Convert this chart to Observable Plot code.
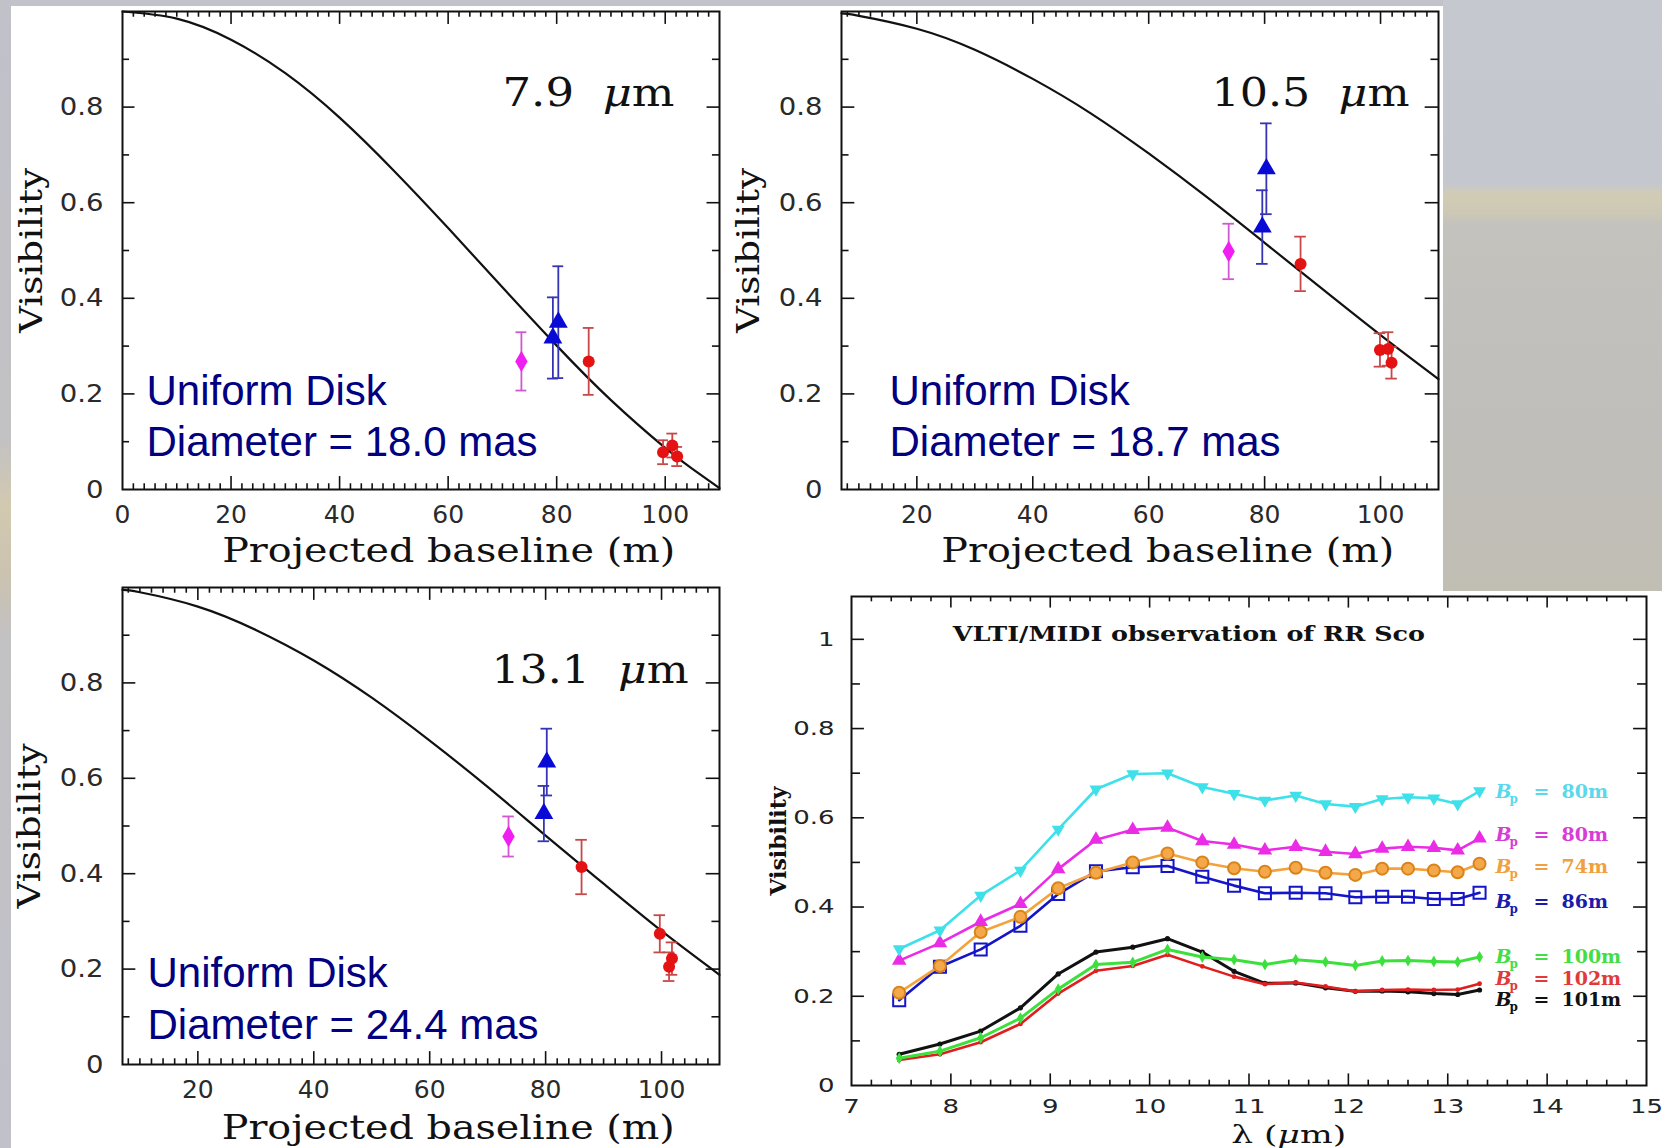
<!DOCTYPE html>
<html><head><meta charset="utf-8">
<script src="https://cdn.jsdelivr.net/npm/d3@7"></script>
<script src="https://cdn.jsdelivr.net/npm/@observablehq/plot@0.6"></script>
<style>
html,body{margin:0;padding:0;}
body{width:1662px;height:1148px;overflow:hidden;background:#c1c2ca;}
#page{position:relative;width:1662px;height:1148px;overflow:hidden;}
.panel{position:absolute;background:#ffffff;}
.chart{position:absolute;}
.chart svg{overflow:visible;display:block;}
</style></head><body>
<div id="page">
  <div class="panel" style="left:0;top:0;width:11px;height:1148px;background:linear-gradient(180deg,#c0c1c9 0%,#c2c1c4 38%,#d2c9b0 44%,#cbc3b0 50%,#c2c1c4 56%,#c0c1c9 100%);"></div>
  <div class="panel" style="left:1443px;top:0;width:219px;height:591px;background:linear-gradient(180deg,#c6c8d0 0%,#c5c7cf 31%,#d2ccb4 33%,#cdc8b6 36%,#c3c2bd 38%,#bfbebb 70%,#c1beb4 100%);"></div>
  <div class="panel" style="left:11px;top:6px;width:1432px;height:1142px;"></div>
  <div class="panel" style="left:11px;top:591px;width:1651px;height:557px;"></div>
</div>
<script>
// ================= DATA =================
// observation kinds (shared by the three baseline panels)
const obsKind = ["mag", "tri", "tri", "circ", "circ", "circ", "circ"];

// 7.9 micron panel
const wl79_B   = [73.5, 79.3, 80.3, 85.9, 99.6, 101.3, 102.2];
const wl79_V   = [0.268, 0.317, 0.350, 0.268, 0.078, 0.092, 0.069];
const wl79_err = [0.061, 0.085, 0.117, 0.070, 0.025, 0.025, 0.020];
const ud79_B   = [0, 10, 20, 30, 40, 50, 60, 70, 80, 90, 100, 105, 110];
const ud79_V   = [1.000, 0.985, 0.941, 0.871, 0.778, 0.667, 0.547, 0.423, 0.301, 0.187, 0.087, 0.043, 0.003];

// 10.5 micron panel
const wl105_B   = [73.8, 79.6, 80.3, 86.2, 99.9, 101.3, 101.9];
const wl105_V   = [0.498, 0.549, 0.671, 0.472, 0.292, 0.294, 0.265];
const wl105_err = [0.058, 0.077, 0.095, 0.057, 0.035, 0.035, 0.033];
const ud105_B   = [7, 10, 20, 30, 40, 50, 60, 70, 80, 90, 100, 110];
const ud105_V   = [0.996, 0.991, 0.964, 0.920, 0.859, 0.787, 0.703, 0.612, 0.516, 0.419, 0.323, 0.231];

// 13.1 micron panel
const wl131_B   = [73.6, 79.7, 80.2, 86.2, 99.7, 101.3, 101.8];
const wl131_V   = [0.478, 0.526, 0.634, 0.414, 0.274, 0.205, 0.222];
const wl131_err = [0.042, 0.058, 0.070, 0.057, 0.039, 0.030, 0.034];
const ud131_B   = [7, 10, 20, 30, 40, 50, 60, 70, 80, 90, 100, 110];
const ud131_V   = [0.995, 0.990, 0.960, 0.911, 0.847, 0.769, 0.679, 0.582, 0.480, 0.379, 0.280, 0.188];

const wavelengths = ["7.9", "10.5", "13.1"];
const diameters = ["18.0", "18.7", "24.4"];

// MIDI spectra panel
const lambda = [7.48, 7.89, 8.30, 8.70, 9.08, 9.46, 9.83, 10.18, 10.53, 10.85, 11.16, 11.47, 11.77, 12.07, 12.34, 12.60, 12.86, 13.10, 13.32];
const visCyan80    = [0.306, 0.348, 0.426, 0.482, 0.574, 0.664, 0.698, 0.700, 0.669, 0.654, 0.639, 0.650, 0.631, 0.625, 0.642, 0.646, 0.644, 0.631, 0.660];
const visMagenta80 = [0.280, 0.319, 0.367, 0.407, 0.485, 0.551, 0.573, 0.578, 0.548, 0.540, 0.527, 0.535, 0.524, 0.519, 0.531, 0.535, 0.533, 0.527, 0.554];
const visOrange74  = [0.208, 0.268, 0.344, 0.378, 0.442, 0.477, 0.500, 0.520, 0.500, 0.487, 0.479, 0.488, 0.477, 0.472, 0.486, 0.486, 0.482, 0.478, 0.497];
const visBlue86    = [0.191, 0.266, 0.305, 0.358, 0.429, 0.480, 0.489, 0.492, 0.468, 0.448, 0.431, 0.432, 0.431, 0.422, 0.423, 0.423, 0.418, 0.418, 0.432];
const visGreen100  = [0.061, 0.077, 0.107, 0.151, 0.216, 0.271, 0.276, 0.305, 0.288, 0.282, 0.271, 0.282, 0.277, 0.269, 0.279, 0.280, 0.278, 0.277, 0.288];
const visRed102    = [0.057, 0.070, 0.097, 0.138, 0.206, 0.257, 0.268, 0.293, 0.267, 0.244, 0.227, 0.231, 0.222, 0.211, 0.214, 0.215, 0.214, 0.215, 0.228];
const visBlack101  = [0.070, 0.093, 0.122, 0.174, 0.250, 0.299, 0.310, 0.329, 0.299, 0.256, 0.229, 0.230, 0.219, 0.211, 0.212, 0.210, 0.206, 0.204, 0.214];
const bpText = ["80m", "80m", "74m", "86m", "100m", "102m", "101m"];
const bpLabelY = [0.658, 0.561, 0.489, 0.411, 0.288, 0.239, 0.191];
const midiTitle = "VLTI/MIDI observation of RR Sco";

// ================= STYLES =================
const SERIF = "'DejaVu Serif', serif";
const SANS = "'DejaVu Sans', sans-serif";
const ARIAL = "'Liberation Sans', Arial, sans-serif";
const obsStyle = {
  mag:  {symbol: "diamond",  r: 6.5, fill: "#f01ef0", bar: "#d058d0"},
  tri:  {symbol: "triangle", r: 7,   fill: "#0a0ad6", bar: "#3434b4"},
  circ: {symbol: "circle",   r: 6,   fill: "#e41212", bar: "#c84848"}
};

function mount(svg, left, top) {
  const div = document.createElement("div");
  div.className = "chart";
  div.style.left = left + "px";
  div.style.top = top + "px";
  div.appendChild(svg);
  document.getElementById("page").appendChild(div);
  return svg;
}
// italicise the Greek mu inside a text element (keeps it one text element)
function italicMu(t) {
  const s = t.textContent;
  const i = s.indexOf("μ");
  if (i < 0) return;
  const NS = "http://www.w3.org/2000/svg";
  t.textContent = "";
  t.appendChild(document.createTextNode(s.slice(0, i)));
  const ts = document.createElementNS(NS, "tspan");
  ts.setAttribute("font-style", "italic");
  ts.textContent = "μ";
  t.appendChild(ts);
  t.appendChild(document.createTextNode(s.slice(i + 1)));
}
function stretchTo(svg, widths) {
  svg.querySelectorAll("text").forEach(t => {
    const k = t.textContent;
    if (k in widths) {
      if (k.includes("μ")) italicMu(t);
      t.setAttribute("textLength", widths[k]);
      t.setAttribute("lengthAdjust", "spacingAndGlyphs");
    }
  });
}
function stretchBy(nodes, f) {
  nodes.forEach(t => {
    const w = t.getComputedTextLength();
    t.setAttribute("textLength", w * f);
    t.setAttribute("lengthAdjust", "spacingAndGlyphs");
  });
}

// ================= BASELINE PANELS =================
function visPanel(o) {
  const obs = o.B.map((b, i) => ({b, v: o.V[i], e: o.err[i], kind: obsKind[i]}));
  const curve = o.cB.map((b, i) => ({b, v: o.cV[i]}));
  const [x0, x1] = o.xDomain;
  const ticks2 = d3.range(0, 111, 2).filter(d => d > x0 && d < x1);
  const minorX = ticks2.filter(d => d % 20 !== 0);
  const majorX = ticks2.filter(d => d % 20 === 0);
  const minorY = [0.1, 0.3, 0.5, 0.7, 0.9];
  const majorY = [0.2, 0.4, 0.6, 0.8];
  const tk = {stroke: "#111", strokeWidth: 1.6};
  const marks = [
    Plot.ruleX(minorX, {x: d => d, y1: 0, y2: 0.012, ...tk}),
    Plot.ruleX(majorX, {x: d => d, y1: 0, y2: 0.027, ...tk}),
    Plot.ruleX(minorX, {x: d => d, y1: 1, y2: 0.988, ...tk}),
    Plot.ruleX(majorX, {x: d => d, y1: 1, y2: 0.973, ...tk}),
    Plot.ruleY(minorY, {y: d => d, x1: x0, x2: x0 + 1.3, ...tk}),
    Plot.ruleY(majorY, {y: d => d, x1: x0, x2: x0 + 2.3, ...tk}),
    Plot.ruleY(minorY, {y: d => d, x1: x1, x2: x1 - 1.3, ...tk}),
    Plot.ruleY(majorY, {y: d => d, x1: x1, x2: x1 - 2.3, ...tk}),
    Plot.line(curve, {x: "b", y: "v", curve: "natural", stroke: "#111", strokeWidth: 2.2})
  ];
  for (const k of ["mag", "tri", "circ"]) {
    const s = obsStyle[k];
    const sub = obs.filter(d => d.kind === k);
    marks.push(
      Plot.ruleX(sub, {x: "b", y1: d => d.v - d.e, y2: d => d.v + d.e, stroke: s.bar, strokeWidth: 1.8}),
      Plot.ruleY(sub, {y: d => d.v + d.e, x1: d => d.b - 1, x2: d => d.b + 1, stroke: s.bar, strokeWidth: 1.8}),
      Plot.ruleY(sub, {y: d => d.v - d.e, x1: d => d.b - 1, x2: d => d.b + 1, stroke: s.bar, strokeWidth: 1.8})
    );
  }
  for (const k of ["mag", "tri", "circ"]) {
    const s = obsStyle[k];
    const sub = obs.filter(d => d.kind === k);
    marks.push(Plot.dot(sub, {x: "b", y: "v", symbol: s.symbol, r: s.r, fill: s.fill, stroke: "none"}));
  }
  marks.push(
    Plot.frame({stroke: "#111", strokeWidth: 2}),
    Plot.axisX(o.xTicks, {anchor: "bottom", tickSize: 0, tickPadding: 16, fontSize: 25, fontFamily: SANS, fill: "#2a2a2a", label: null}),
    Plot.axisY([0, 0.2, 0.4, 0.6, 0.8], {anchor: "left", tickSize: 0, tickPadding: 19, fontSize: 25, fontFamily: SANS, fill: "#2a2a2a", label: null,
      tickFormat: d => d === 0 ? "0" : d.toFixed(1)}),
    Plot.text(["Projected baseline (m)"], {x: o.xLabelAt, frameAnchor: "bottom", dy: o.xLabelDy, textAnchor: "middle", lineAnchor: "middle", fontSize: 33, fontFamily: SERIF, fill: "#111"}),
    Plot.text(["Visibility"], {frameAnchor: "left", rotate: -90, dx: o.visDx, textAnchor: "middle", lineAnchor: "middle", fontSize: 31, fontFamily: SERIF, fill: "#111"}),
    Plot.text([o.wl + "\u00a0\u00a0μm"], {frameAnchor: "top-right", dx: o.wlDx, dy: o.wlDy, textAnchor: "end", lineAnchor: "middle", fontSize: 40, fontFamily: SERIF, fill: "#111"}),
    Plot.text(["Uniform Disk"], {frameAnchor: "bottom-left", dx: o.udDx, dy: o.udDy1, textAnchor: "start", lineAnchor: "middle", fontSize: 42, fontFamily: ARIAL, fill: "#000080"}),
    Plot.text(["Diameter = " + o.diam + " mas"], {frameAnchor: "bottom-left", dx: o.udDx, dy: o.udDy2, textAnchor: "start", lineAnchor: "middle", fontSize: 42, fontFamily: ARIAL, fill: "#000080"})
  );
  const svg = Plot.plot({
    width: o.W, height: o.H,
    marginLeft: o.mL, marginTop: o.mT, marginRight: o.mR, marginBottom: o.mB,
    x: {domain: o.xDomain},
    y: {domain: [0, 1]},
    style: {background: "transparent", overflow: "visible"},
    marks
  });
  mount(svg, o.left, o.top);
  const widths = {"Projected baseline (m)": 453, "Visibility": 165};
  widths[o.wl + "\u00a0\u00a0μm"] = o.wlWidth;
  stretchTo(svg, widths);
  stretchBy(svg.querySelectorAll('g[aria-label="y-axis tick label"] text'), 1.1);
  return svg;
}

visPanel({left: 0, top: 0, W: 740, H: 580, mL: 122, mT: 11, mR: 21, mB: 91,
  xDomain: [0, 110], xTicks: [0, 20, 40, 60, 80, 100], xLabelAt: 60.1, xLabelDy: 62,
  B: wl79_B, V: wl79_V, err: wl79_err, cB: ud79_B, cV: ud79_V,
  wl: wavelengths[0], wlDx: -45, wlDy: 82, wlWidth: 172, diam: diameters[0],
  udDx: 24, udDy1: -98, udDy2: -47, visDx: -90});

visPanel({left: 740, top: 0, W: 740, H: 580, mL: 101, mT: 11, mR: 42, mB: 91,
  xDomain: [7, 110], xTicks: [20, 40, 60, 80, 100], xLabelAt: 63.3, xLabelDy: 62,
  B: wl105_B, V: wl105_V, err: wl105_err, cB: ud105_B, cV: ud105_V,
  wl: wavelengths[1], wlDx: -29, wlDy: 82, wlWidth: 198, diam: diameters[1],
  udDx: 48, udDy1: -98, udDy2: -47, visDx: -92});

visPanel({left: 0, top: 560, W: 740, H: 588, mL: 122, mT: 27, mR: 21, mB: 84,
  xDomain: [7, 110], xTicks: [20, 40, 60, 80, 100], xLabelAt: 63.2, xLabelDy: 64,
  B: wl131_B, V: wl131_V, err: wl131_err, cB: ud131_B, cV: ud131_V,
  wl: wavelengths[2], wlDx: -31, wlDy: 83, wlWidth: 197, diam: diameters[2],
  udDx: 25, udDy1: -91, udDy2: -39, visDx: -92});

// ================= MIDI SPECTRA PANEL =================
(function () {
  const series = [
    {v: visBlack101,  color: "#111111", lw: 3,   sym: "circle",   r: 2.6, fill: "#111111", stroke: "none", lab: "#111111"},
    {v: visRed102,    color: "#e01e1e", lw: 2.6, sym: "circle",   r: 2.4, fill: "#e01e1e", stroke: "none", lab: "#e03a3a"},
    {v: visGreen100,  color: "#3ce03c", lw: 3,   sym: "diamond",  r: 3.6, fill: "#3ce03c", stroke: "none", lab: "#44dd44"},
    {v: visBlue86,    color: "#1414c8", lw: 2.6, sym: "square",   r: 6.8, fill: "none",    stroke: "#1414c8", lab: "#1c1ca8"},
    {v: visOrange74,  color: "#f4a23c", lw: 2.6, sym: "circle",   r: 6,   fill: "#f5a84a", stroke: "#d98418", lab: "#f0a040"},
    {v: visMagenta80, color: "#ea2ce6", lw: 2.6, sym: "triangle", r: 5.4, fill: "#ea2ce6", stroke: "none", lab: "#d63cd6"},
    {v: visCyan80,    color: "#3ee0ea", lw: 2.6, sym: "triangle", r: 4.8, fill: "#3ee0ea", stroke: "none", lab: "#5ad8ec", rot: 180}
  ];
  // label order matches bpText (cyan, magenta, orange, blue, green, red, black)
  const labelColor = [series[6].lab, series[5].lab, series[4].lab, series[3].lab, series[2].lab, series[1].lab, series[0].lab];
  const x0 = 7, x1 = 15, yTop = 1.096;
  const minorX = d3.range(36, 75).map(d => d / 5).filter(d => Math.abs(d - Math.round(d)) > 1e-6);
  const majorX = d3.range(8, 15);
  const minorY = [0.1, 0.3, 0.5, 0.7, 0.9];
  const majorY = [0.2, 0.4, 0.6, 0.8, 1.0];
  const tk = {stroke: "#111", strokeWidth: 1.6};
  const marks = [
    Plot.ruleX(minorX, {x: d => d, y1: 0, y2: 0.012, ...tk}),
    Plot.ruleX(majorX, {x: d => d, y1: 0, y2: 0.026, ...tk}),
    Plot.ruleX(minorX, {x: d => d, y1: yTop, y2: yTop - 0.012, ...tk}),
    Plot.ruleX(majorX, {x: d => d, y1: yTop, y2: yTop - 0.026, ...tk}),
    Plot.ruleY(minorY, {y: d => d, x1: x0, x2: x0 + 0.09, ...tk}),
    Plot.ruleY(majorY, {y: d => d, x1: x0, x2: x0 + 0.13, ...tk}),
    Plot.ruleY(minorY, {y: d => d, x1: x1, x2: x1 - 0.09, ...tk}),
    Plot.ruleY(majorY, {y: d => d, x1: x1, x2: x1 - 0.13, ...tk})
  ];
  for (const s of series) {
    const rows = lambda.map((l, i) => ({l, v: s.v[i]}));
    marks.push(Plot.line(rows, {x: "l", y: "v", stroke: s.color, strokeWidth: s.lw}));
    marks.push(Plot.dot(rows, {x: "l", y: "v", symbol: s.sym, r: s.r, fill: s.fill, stroke: s.stroke,
      strokeWidth: 2, rotate: s.rot || 0}));
  }
  bpText.forEach((t, i) => {
    const c = labelColor[i];
    const base = {x: 13.48, y: d => d, textAnchor: "start", lineAnchor: "middle", fontFamily: SERIF, fontWeight: "bold", fill: c};
    marks.push(
      Plot.text([bpLabelY[i]], {...base, text: () => "B", fontStyle: "italic", fontSize: 19}),
      Plot.text([bpLabelY[i]], {...base, text: () => "p", fontSize: 12, dx: 14, dy: 7}),
      Plot.text([bpLabelY[i]], {...base, text: () => "=", fontSize: 19, dx: 38}),
      Plot.text([bpLabelY[i]], {...base, text: () => t, fontSize: 19, dx: 66})
    );
  });
  marks.push(
    Plot.frame({stroke: "#111", strokeWidth: 2}),
    Plot.axisX(d3.range(7, 16), {anchor: "bottom", tickSize: 0, tickPadding: 13, fontSize: 20, fontFamily: SANS, fill: "#222", label: null}),
    Plot.axisY([0, 0.2, 0.4, 0.6, 0.8, 1], {anchor: "left", tickSize: 0, tickPadding: 17, fontSize: 20, fontFamily: SANS, fill: "#222", label: null,
      tickFormat: d => d === 0 ? "0" : d === 1 ? "1" : d.toFixed(1)}),
    Plot.text([midiTitle], {x: 8.02, frameAnchor: "top", dy: 38, textAnchor: "start", lineAnchor: "middle", fontSize: 20, fontWeight: "bold", fontFamily: SERIF, fill: "#111"}),
    Plot.text(["λ (μm)"], {x: 11.4, frameAnchor: "bottom", dy: 50, textAnchor: "middle", lineAnchor: "middle", fontSize: 24, fontFamily: SERIF, fill: "#111"}),
    Plot.text(["Visibility"], {frameAnchor: "left", rotate: -90, dx: -73, textAnchor: "middle", lineAnchor: "middle", fontSize: 22, fontWeight: "bold", fontFamily: SERIF, fill: "#111"})
  );
  const svg = Plot.plot({
    width: 922, height: 568,
    marginLeft: 111, marginTop: 16, marginRight: 16, marginBottom: 63,
    x: {domain: [x0, x1]},
    y: {domain: [0, yTop]},
    style: {background: "transparent", overflow: "visible"},
    marks
  });
  mount(svg, 740, 580);
  stretchTo(svg, {[midiTitle]: 472, "λ (μm)": 115});
  stretchBy(svg.querySelectorAll('g[aria-label="x-axis tick label"] text, g[aria-label="y-axis tick label"] text'), 1.3);
})();
</script>
</body></html>
